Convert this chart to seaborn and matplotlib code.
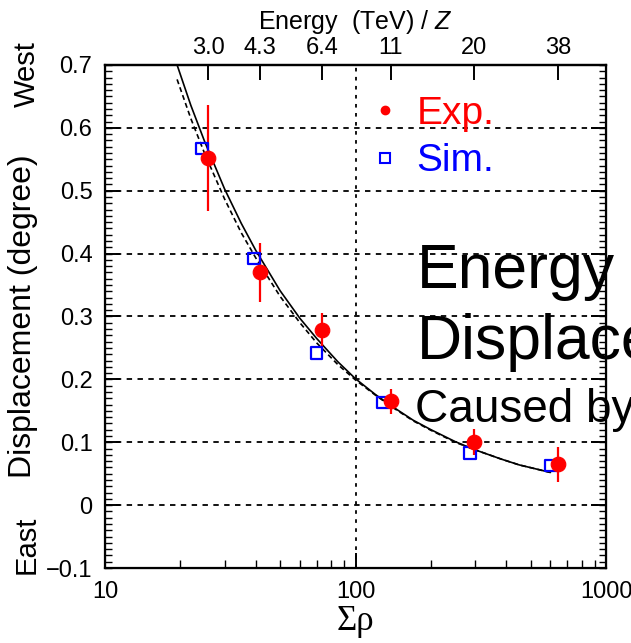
import numpy as np
import pandas as pd
import seaborn as sns
import matplotlib.pyplot as plt
from matplotlib.lines import Line2D
from matplotlib.ticker import NullLocator, LogLocator

# measured points
exp_sigma = [25.8, 41.7, 73.8, 138, 296, 643]
exp_disp = [0.552, 0.370, 0.278, 0.165, 0.100, 0.065]
exp_err = [0.084, 0.047, 0.027, 0.020, 0.021, 0.028]

sim_sigma = [24.4, 39.4, 69.8, 129, 286, 603]
sim_disp = [0.567, 0.392, 0.242, 0.163, 0.083, 0.063]

# fitted curves
curve_sigma = [19.4, 22, 25, 30, 35, 40, 50, 60, 70, 85, 100, 120, 140, 170,
               200, 250, 300, 380, 450, 520, 600]
curve_solid = [0.700, 0.636, 0.578, 0.503, 0.448, 0.405, 0.341, 0.297, 0.265,
               0.228, 0.201, 0.176, 0.157, 0.135, 0.120, 0.101, 0.088, 0.0735,
               0.064, 0.058, 0.052]
curve_dashed = [0.677, 0.615, 0.559, 0.487, 0.433, 0.393, 0.332, 0.290, 0.258,
                0.2235, 0.199, 0.175, 0.156, 0.134, 0.119, 0.100, 0.088, 0.0735,
                0.064, 0.058, 0.052]

energy_labels = ["3.0", "4.3", "6.4", "11", "20", "38"]
ytick_labels = ['\u22120.1', '0', '0.1', '0.2', '0.3', '0.4', '0.5', '0.6', '0.7']

sns.set_style("ticks")
plt.rcParams['font.family'] = ['Liberation Sans', 'DejaVu Sans']
plt.rcParams['mathtext.fontset'] = 'custom'
plt.rcParams['mathtext.rm'] = 'Liberation Sans'
plt.rcParams['mathtext.it'] = 'Liberation Sans:italic'
for k in ['text.color', 'axes.labelcolor', 'xtick.color', 'ytick.color',
          'xtick.labelcolor', 'ytick.labelcolor', 'axes.edgecolor']:
    plt.rcParams[k] = 'black'

fig = plt.figure(figsize=(6.31, 6.43), dpi=100)
ax = fig.add_axes([0.1664, 0.1166, 0.794, 0.7824])
ax.set_xscale('log')

curves = pd.DataFrame({
    'sigma': curve_sigma * 2,
    'disp': curve_solid + curve_dashed,
    'kind': ['solid'] * len(curve_sigma) + ['dashed'] * len(curve_sigma),
})
sns.lineplot(data=curves, x='sigma', y='disp', style='kind',
             dashes={'solid': '', 'dashed': (3, 2)}, color='black',
             linewidth=1.2, legend=False, ax=ax, sort=False)

ax.errorbar(exp_sigma, exp_disp, yerr=exp_err, fmt='none', ecolor='red',
            elinewidth=1.6, capsize=0, zorder=4)
sns.scatterplot(x=sim_sigma, y=sim_disp, marker='s', s=70, facecolor='none',
                edgecolor='blue', linewidth=1.6, ax=ax, zorder=5)
sns.scatterplot(x=exp_sigma, y=exp_disp, marker='o', s=110, color='red',
                edgecolor='red', ax=ax, zorder=6)

ax.set_xlim(10, 1000)
ax.set_ylim(-0.1, 0.7)

# grid
for yv in np.arange(0, 0.65, 0.1):
    ax.axhline(yv, color='black', lw=1.3, ls=(0, (3, 3)), zorder=1)
ax.axvline(100, color='black', lw=1.3, ls=(0, (2, 3)), zorder=1)

ax.set_yticks(np.arange(-0.1, 0.71, 0.1))
ax.set_yticklabels(ytick_labels)
ax.set_xticks([10, 100, 1000])
ax.set_xticklabels(['10', '100', '1000'])
ax.xaxis.set_minor_locator(NullLocator())
ax.yaxis.set_minor_locator(NullLocator())
for s in ax.spines.values():
    s.set_linewidth(1.6)
    s.set_color('black')
ax.tick_params(axis='both', which='major', direction='in', length=11, width=1.4,
               labelsize=17, right=True, top=False, pad=9)

ax.set_xlabel('\u03a3\u03c1', family='Liberation Serif', fontsize=25, labelpad=2)
ax.set_ylabel('Displacement (degree)', fontsize=23, labelpad=6)

# small ticks on secondary axes (no labels)
small_y = np.arange(-0.1, 0.7001, 0.01)
small_x = LogLocator(base=10, subs=np.arange(2, 10)).tick_values(10, 1000)
small_x = small_x[(small_x > 10) & (small_x < 1000)]
for side in ['left', 'right']:
    sy = ax.secondary_yaxis(side)
    sy.set_yticks(small_y)
    sy.yaxis.set_minor_locator(NullLocator())
    sy.tick_params(axis='y', which='major', direction='in', length=5, width=1.0,
                   labelleft=False, labelright=False)
sb = ax.secondary_xaxis('bottom')
sb.set_xticks(small_x)
sb.xaxis.set_minor_locator(NullLocator())
sb.tick_params(axis='x', which='major', direction='in', length=6, width=1.0,
               labelbottom=False, labeltop=False)

# top axis: energy per charge
sec = ax.secondary_xaxis('top')
sec.set_xticks(exp_sigma)
sec.set_xticklabels(energy_labels)
sec.xaxis.set_minor_locator(NullLocator())
sec.tick_params(axis='x', which='major', direction='in', length=11, width=1.4,
                labelsize=17, pad=4)
sec.spines['top'].set_linewidth(1.6)
sec.set_xlabel('Energy  (TeV) / $Z$', fontsize=18, labelpad=6)

# legend
handles = [Line2D([], [], marker='o', ls='', color='red', ms=6),
           Line2D([], [], marker='s', ls='', mfc='none', mec='blue', mew=1.5, ms=7)]
leg = ax.legend(handles, ['Exp.', 'Sim.'], loc='upper left',
                bbox_to_anchor=(0.505, 0.97), frameon=False, fontsize=28,
                handlelength=0.6, handletextpad=0.5, labelspacing=0.3,
                borderaxespad=0)
for t, c in zip(leg.get_texts(), ['red', 'blue']):
    t.set_color(c)

fig.text(0.042, 0.885, 'West', rotation=90, fontsize=21, ha='center', va='center')
fig.text(0.042, 0.152, 'East', rotation=90, fontsize=21, ha='center', va='center')

fig.text(0.66, 0.552, 'Energy', fontsize=45, ha='left', va='baseline')
fig.text(0.66, 0.441, 'Displacement', fontsize=45, ha='left', va='baseline')
fig.text(0.658, 0.343, 'Caused by', fontsize=33, ha='left', va='baseline')

fig.savefig('out.png', dpi=100)
